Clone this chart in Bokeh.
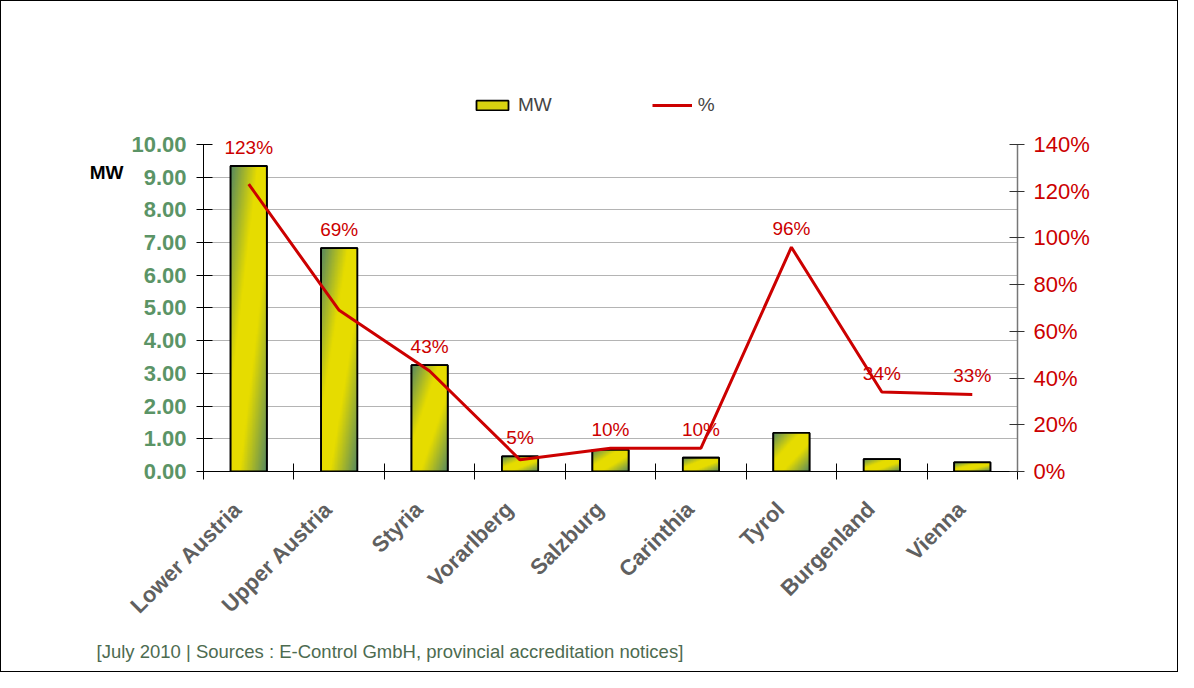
import math
import numpy as np
from bokeh.plotting import figure
from bokeh.models import (Range1d, LinearAxis, FixedTicker, PrintfTickFormatter,
                          Legend, LegendItem, Title)
from bokeh.core.properties import value
from bokeh.embed import file_html
from bokeh.resources import INLINE

# ---- data ----
regions = ["Lower Austria", "Upper Austria", "Styria", "Vorarlberg", "Salzburg",
           "Carinthia", "Tyrol", "Burgenland", "Vienna"]
mw = [9.34, 6.83, 3.25, 0.46, 0.66, 0.42, 1.18, 0.38, 0.28]
pct = [123, 69, 43, 5, 10, 10, 96, 34, 33]
mw_ticks = [0, 1, 2, 3, 4, 5, 6, 7, 8, 9, 10]
pct_ticks = [0, 20, 40, 60, 80, 100, 120, 140]
footer = "[July 2010 | Sources : E-Control GmbH, provincial accreditation notices]"

FONT = "Liberation Sans"
GREEN_TXT = "#5b9466"
RED = "#cc0000"

n = len(regions)
centers = np.arange(n) + 0.5
bounds = list(range(n + 1))
MW_MAX = 10.0
PCT_MAX = 140.0
HEADROOM = 1.171  # room above the top tick for data labels and legend

p = figure(width=1178, height=672, output_backend="svg", toolbar_location=None,
           x_range=Range1d(0, n), y_range=Range1d(0, MW_MAX * HEADROOM),
           min_border_left=202, min_border_right=162, min_border_top=87,
           min_border_bottom=202, outline_line_color=None,
           y_axis_location=None, x_axis_location=None)
p.styles = {"border": "1px solid black"}
p.extra_y_ranges = {"pct": Range1d(0, PCT_MAX * HEADROOM)}

# grid
p.ygrid.ticker = FixedTicker(ticks=mw_ticks[1:-1])
p.ygrid.grid_line_color = "#b4b4b4"
p.ygrid.grid_line_width = 1
p.xgrid.grid_line_color = None

# left axis
yl = LinearAxis(ticker=FixedTicker(ticks=mw_ticks),
                formatter=PrintfTickFormatter(format="%.2f"), bounds=(0, MW_MAX))
yl.major_label_text_font = FONT
yl.major_label_text_font_size = "22px"
yl.major_label_text_font_style = "bold"
yl.major_label_text_color = GREEN_TXT
yl.major_tick_in = 9
yl.major_tick_out = 7
yl.minor_tick_line_color = None
yl.axis_line_color = "black"
yl.major_tick_line_color = "black"
yl.major_label_standoff = 10
p.add_layout(yl, "left")

# unit caption "MW" next to the top of the left axis
unit_y = 9.13
yu = LinearAxis(ticker=FixedTicker(ticks=[unit_y]), bounds=(0, MW_MAX))
yu.major_label_overrides = {unit_y: "MW"}
yu.axis_line_color = None
yu.major_tick_line_color = None
yu.minor_tick_line_color = None
yu.major_tick_in = 0
yu.major_tick_out = 0
yu.major_label_standoff = 5
yu.major_label_text_font = FONT
yu.major_label_text_font_size = "19px"
yu.major_label_text_font_style = "bold"
yu.major_label_text_color = "black"
p.add_layout(yu, "left")

# right axis
yr = LinearAxis(y_range_name="pct", ticker=FixedTicker(ticks=pct_ticks),
                formatter=PrintfTickFormatter(format="%d%%"), bounds=(0, PCT_MAX))
yr.major_label_text_font = FONT
yr.major_label_text_font_size = "22px"
yr.major_label_text_color = RED
yr.major_tick_in = 8
yr.major_tick_out = 7
yr.minor_tick_line_color = None
yr.axis_line_color = "#777777"
yr.axis_line_width = 1.5
yr.major_tick_line_color = "#333333"
yr.major_label_standoff = 9
p.add_layout(yr, "right")

# bottom axis: labels near centres, ticks at boundaries
label_pos = [round(float(c) - 0.12, 2) for c in centers]
xb = LinearAxis(ticker=FixedTicker(ticks=label_pos, minor_ticks=bounds))
xb.major_label_overrides = {lp: r for lp, r in zip(label_pos, regions)}
xb.major_tick_in = 0
xb.major_tick_out = 0
xb.minor_tick_in = 8
xb.minor_tick_out = 8
xb.minor_tick_line_color = "black"
xb.axis_line_color = "black"
xb.major_label_orientation = math.pi / 4
xb.major_label_text_font = FONT
xb.major_label_text_font_size = "22px"
xb.major_label_text_font_style = "bold"
xb.major_label_text_color = "#606060"
xb.major_label_standoff = 26
p.add_layout(xb, "below")

# footer
p.add_layout(Title(text=footer, align="left", offset=-107, standoff=18,
                   text_font=FONT, text_font_size="18.5px", text_font_style="normal",
                   text_color="#4d6b50"), "below")

# bars: base fill (for legend), gradient image, outline
bar_base = p.vbar(x=centers, top=mw, width=0.4, bottom=0,
                  fill_color="#d8d210", line_color="black", line_width=1.8)

H, W = 160, 60
u = np.linspace(0, 1, W)[None, :]
v = np.linspace(1, 0, H)[:, None]
t = (u + v) / 2.0
s = 1 - np.abs(2 * t - 1)
w = np.clip(s * 1.35, 0, 1)
g = np.array([0x56, 0x88, 0x60], dtype=float)
y_ = np.array([0xe6, 0xdc, 0x00], dtype=float)
rgb = g[None, None, :] + (y_ - g)[None, None, :] * w[:, :, None]
img = np.empty((H, W), dtype=np.uint32)
view = img.view(dtype=np.uint8).reshape((H, W, 4))
view[:, :, 0] = rgb[:, :, 0].astype(np.uint8)
view[:, :, 1] = rgb[:, :, 1].astype(np.uint8)
view[:, :, 2] = rgb[:, :, 2].astype(np.uint8)
view[:, :, 3] = 255
p.image_rgba(image=[img] * n, x=list(centers - 0.2), y=[0] * n,
             dw=[0.4] * n, dh=mw)
p.vbar(x=centers, top=mw, width=0.4, bottom=0, fill_alpha=0,
       line_color="black", line_width=1.8)

# percentage line
pline = p.line(x=centers, y=pct, y_range_name="pct", line_color=RED, line_width=3)

# data labels
anchor = [max(a, b * PCT_MAX / MW_MAX) for a, b in zip(pct, mw)]
p.text(x=centers, y=anchor, text=[f"{v_}%" for v_ in pct], y_range_name="pct",
       text_font=value(FONT), text_font_size="19px", text_color=RED,
       text_align="center", text_baseline="bottom", y_offset=-8)

# legend (inside the frame's head room)
legend = Legend(items=[LegendItem(label="MW", renderers=[bar_base]),
                       LegendItem(label="%", renderers=[pline])],
                orientation="horizontal", location=(269, 355),
                spacing=100, glyph_width=40, glyph_height=12, label_standoff=6,
                label_text_font=FONT, label_text_font_size="19px",
                padding=0, margin=0, border_line_alpha=0,
                background_fill_alpha=0)
p.add_layout(legend, "center")

open("out.html", "w").write(file_html(p, INLINE))
